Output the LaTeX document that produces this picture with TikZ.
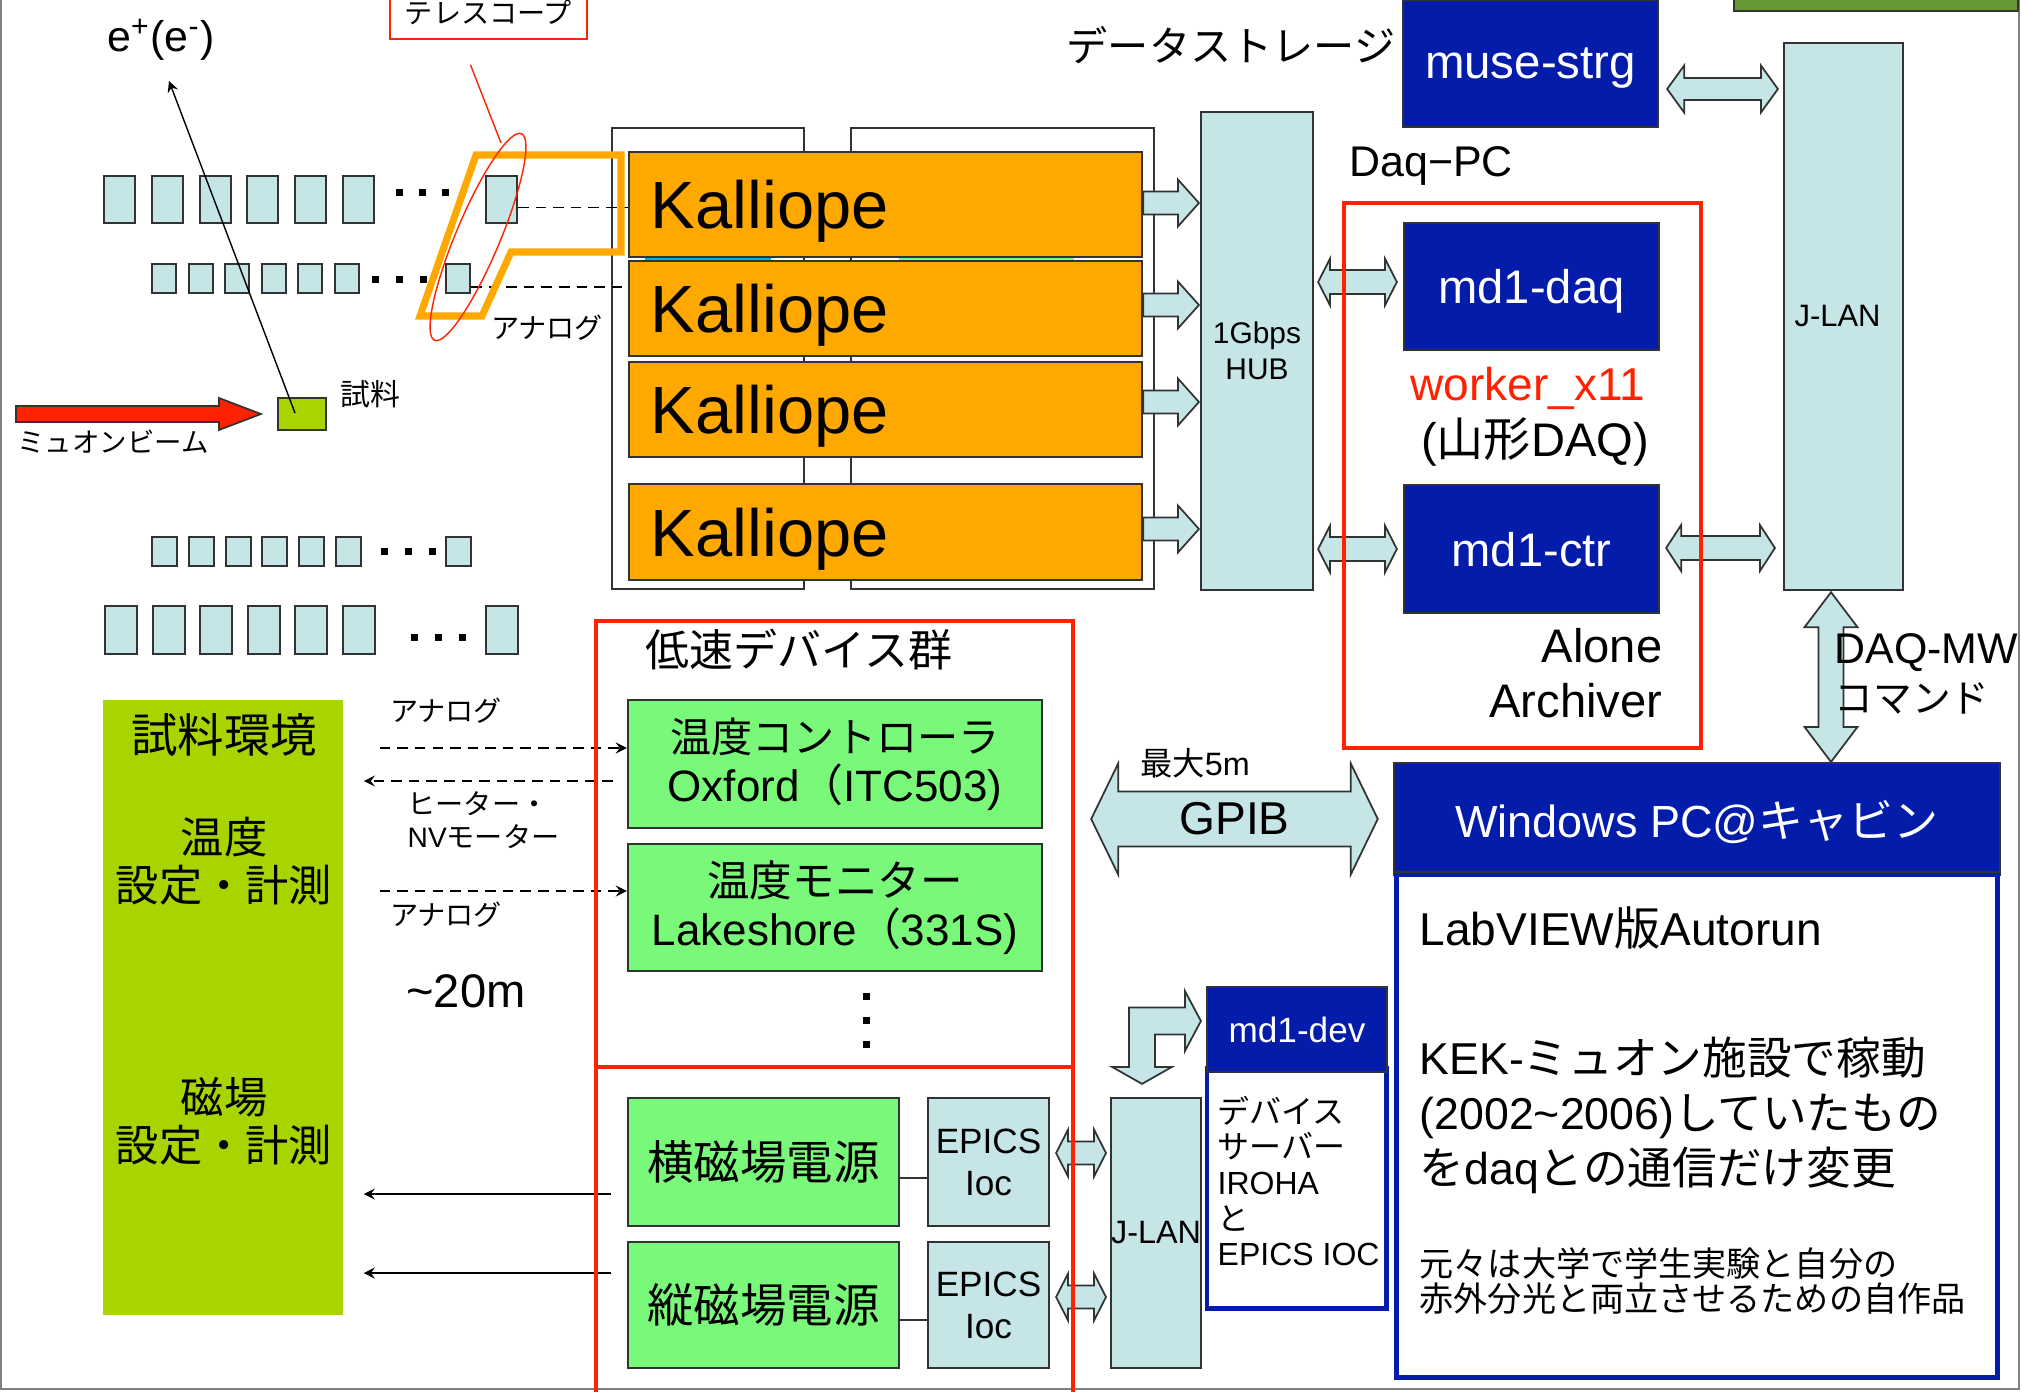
\documentclass[tikz,border=0pt]{standalone}
\usepackage{fontspec}
\setmainfont{Liberation Sans}
\newfontfamily\jp{Noto Sans CJK JP}
\usetikzlibrary{calc,shapes.geometric}

\definecolor{cyanclair}{HTML}{C5E5E6}
\definecolor{bleufonce}{HTML}{031CAA}
\definecolor{orangek}{HTML}{FFA900}
\definecolor{vertclair}{HTML}{79F879}
\definecolor{vertanis}{HTML}{A8D400}
\definecolor{rouge}{HTML}{FF2200}
\definecolor{vertolive}{HTML}{669933}
\definecolor{trait}{HTML}{333333}

\newcommand\taille[2]{\fontsize{#1}{#2}\selectfont}

% flèches "bloc" : pointes, demi-tige, demi-tête, longueur de tête
\newcommand\dflecheH[5]{%
  \draw[fleche] (#1) -- ($(#1)+(#5,-#4)$) -- ($(#1)+(#5,-#3)$) -- ($(#2)+(-#5,-#3)$) -- ($(#2)+(-#5,-#4)$) -- (#2)
    -- ($(#2)+(-#5,#4)$) -- ($(#2)+(-#5,#3)$) -- ($(#1)+(#5,#3)$) -- ($(#1)+(#5,#4)$) -- cycle;}
\newcommand\flecheH[6][]{%
  \draw[fleche,#1] ($(#2)+(0,-#4)$) -- ($(#3)+(-#6,-#4)$) -- ($(#3)+(-#6,-#5)$) -- (#3)
    -- ($(#3)+(-#6,#5)$) -- ($(#3)+(-#6,#4)$) -- ($(#2)+(0,#4)$) -- cycle;}
\newcommand\dflecheV[5]{%
  \draw[fleche] (#1) -- ($(#1)+(#4,#5)$) -- ($(#1)+(#3,#5)$) -- ($(#2)+(#3,-#5)$) -- ($(#2)+(#4,-#5)$) -- (#2)
    -- ($(#2)+(-#4,-#5)$) -- ($(#2)+(-#3,-#5)$) -- ($(#1)+(-#3,#5)$) -- ($(#1)+(-#4,#5)$) -- cycle;}

\tikzset{
  boite/.style={draw=trait, line width=0.6pt, inner sep=0pt},
  detect/.style={boite, fill=cyanclair},
  det1/.style={detect, minimum width=0.31cm, minimum height=0.47cm},
  det2/.style={detect, minimum width=0.24cm, minimum height=0.29cm},
  det3/.style={detect, minimum width=0.25cm, minimum height=0.29cm},
  det4/.style={detect, minimum width=0.32cm, minimum height=0.48cm},
  kalliope/.style={boite, fill=orangek, text width=4.69cm, inner xsep=0.22cm, align=left,
    font=\taille{19pt}{22pt}, text depth=0pt},
  bleu/.style={boite, fill=bleufonce, text=white, text depth=0pt},
  vert/.style={boite, fill=vertclair, align=center},
  fleche/.style={draw=trait, line width=0.5pt, fill=cyanclair, line join=miter},
  cadre/.style={draw=rouge, line width=1.1pt, inner sep=0pt},
  pointille/.style={dash pattern=on 3pt off 2pt, line width=0.4pt, ->, >=stealth},
  simple/.style={line width=0.4pt, ->, >=stealth},
  etiq/.style={font=\jp\taille{8pt}{9.4pt}, inner sep=0pt},
  gauche/.style={anchor=west, align=left, inner sep=0pt},
}

\begin{document}
\begin{tikzpicture}[x=0.01cm,y=-0.01cm]
  \useasboundingbox (0,0) rectangle (2022,1391);
  % cadre de la page
  \draw[gray, line width=0.6pt] (1,-10) -- (1,1389) -- (2019,1389) -- (2019,-10);
  \node[boite, fill=vertolive, minimum width=2.84cm, minimum height=0.31cm] (vhaut) at (1876,-4.5) {};

  % détecteurs
  \foreach \i in {0,...,5} \node[det1] (da\i) at (119.5+47.8*\i,199.5) {};
  \node[det1] (da6) at (501.5,199.5) {};
  \foreach \x in {399,422,445} \fill (\x-3.5,189) rectangle ++(7,7);
  \foreach \i in {0,...,5} \node[det2] (db\i) at (164+36.6*\i,278.5) {};
  \node[det2] (db6) at (458,278.5) {};
  \foreach \x in {375.5,399.5,423} \fill (\x-3.5,275.5) rectangle ++(7,7);
  \foreach \i in {0,...,5} \node[det3] (dc\i) at (164.5+36.8*\i,551.5) {};
  \node[det3] (dc6) at (458.5,551.5) {};
  \foreach \x in {384,408,432} \fill (\x-3.5,547.5) rectangle ++(7,7);
  \foreach \i in {0,...,5} \node[det4] (dd\i) at (121+47.6*\i,630) {};
  \node[det4] (dd6) at (502,630) {};
  \foreach \x in {414,438,462} \fill (\x-3.5,633.5) rectangle ++(7,7);

  % échantillon et faisceau
  \node[boite, fill=vertanis, minimum width=0.48cm, minimum height=0.32cm] (ech) at (302,414) {};
  \node[font=\jp\taille{8.5pt}{10pt}] (lech) at (370,394) {試料};
  \coordinate (src) at (16,414);
  \coordinate (cible) at ($(ech.west)+(-16,0)$);
  \flecheH[fill=rouge]{src}{cible}{8}{16}{42}
  \node[etiq, font=\jp\taille{7.8pt}{9pt}] (lmu) at (113,442) {ミュオンビーム};
  \node[font=\taille{12.2pt}{14pt}] (epos) at (161,40) {e\textsuperscript{+}(e\textsuperscript{-})};
  \coordinate (trace) at (169,81);
  \draw[simple] ($(ech.center)+(-7,-1)$) -- (trace);

  % châssis derrière les Kalliope
  \draw[trait, line width=0.5pt, fill=white] (612,128) rectangle (804,589);
  \draw[trait, line width=0.5pt, fill=white] (851,128) rectangle (1154,589);
  \fill[cyan] (645,257) rectangle (771,261);
  \fill[vertclair] (899,257) rectangle (1074,261);
  \foreach \n/\y/\h in {1/204.5/1.05, 2/308.5/0.95, 3/409.5/0.95, 4/532/0.96}
    \node[kalliope, minimum height=\h cm] (k\n) at (885.5,\y) {Kalliope};

  % télescope
  \draw[dash pattern=on 3pt off 2pt, line width=0.4pt] ($(da6.east)+(0,8)$) -- ($(k1.west |- da6.east)+(0,8)$);
  \draw[dash pattern=on 3pt off 2pt, line width=0.4pt] ($(db6.east)+(0,8.5)$) -- ($(k2.west |- db6.east)+(0,8.5)$);
  \draw[orangek, line width=2pt, line join=miter] (476,155) -- (621,155) -- (621,252) -- (511,252) -- (482,316) -- (420,316) -- cycle;
  \node[ellipse, draw=rouge, line width=0.4pt, minimum width=2.24cm, minimum height=0.44cm, inner sep=0pt, rotate=67.2] (ell) at (478,237) {};
  \node[draw=rouge, line width=0.5pt, minimum width=1.97cm, minimum height=0.54cm, font=\jp\taille{8pt}{10pt}] (tele) at (488.5,12) {テレスコープ};
  \draw[rouge, line width=0.4pt] ($(tele.south)+(-18,25)$) -- ($(ell.center)+(23,-94)$);
  \node[etiq] (lana) at (547,328) {アナログ};

  % hub et réseau
  \node[detect, minimum width=1.12cm, minimum height=4.78cm, align=center, font=\taille{8.5pt}{10.2pt}] (hub) at (1257,351) {1Gbps\\HUB};
  \foreach \n/\dy in {1/-1.5, 2/-3.5, 3/-7.5, 4/-3}{
    \coordinate (p) at ($(k\n.east)+(0,\dy)$);
    \coordinate (q) at ($(hub.west |- p)+(-1,0)$);
    \flecheH{p}{q}{11.5}{23.5}{21}
  }
  \node[detect, minimum width=1.19cm, minimum height=5.47cm, font=\taille{8.8pt}{10pt}] (jlan) at (1843.5,316.5) {\hspace*{-0.12cm}J-LAN};
  \node[bleu, minimum width=2.55cm, minimum height=1.27cm, font=\taille{13.5pt}{16pt}] (muse) at (1530.5,63.5) {muse-strg};
  \node[font=\jp\taille{11.7pt}{14pt}] (lstock) at (1231,45) {データストレージ};
  \node[font=\taille{12.2pt}{14pt}] (ldaqpc) at (1431,166) {Daq−PC};
  \node[bleu, minimum width=2.55cm, minimum height=1.27cm, font=\taille{13.4pt}{16pt}] (daq) at (1531.5,286.5) {md1-daq};
  \node[text=rouge, font=\taille{13.1pt}{15pt}] (wrk) at (1528,388) {worker\_x11};
  \node[font=\taille{13.4pt}{15pt}] (yam) at (1535,442) {({\jp 山形}DAQ)};
  \node[bleu, minimum width=2.55cm, minimum height=1.28cm, font=\taille{13.4pt}{16pt}] (ctr) at (1531.5,549) {md1-ctr};
  \node[align=right, anchor=east, inner sep=0pt, font=\taille{13.4pt}{15.6pt}] (alone) at (1663,673) {Alone\\Archiver};

  \coordinate (m1) at ($(muse.east)+(8,25.5)$);
  \coordinate (m2) at ($(jlan.west |- m1)+(-5,0)$);
  \dflecheH{m1}{m2}{11}{23.5}{17}
  \coordinate (h1) at ($(hub.east |- daq.west)+(4,-4.5)$);
  \coordinate (h2) at ($(daq.west)+(-6,-4.5)$);
  \dflecheH{h1}{h2}{12}{23.5}{12}
  \coordinate (h3) at ($(hub.east |- ctr.west)+(4,0)$);
  \coordinate (h4) at ($(ctr.west)+(-6,0)$);
  \dflecheH{h3}{h4}{12}{23.5}{12}
  \coordinate (c1) at ($(ctr.east)+(6,-1)$);
  \coordinate (c2) at ($(jlan.west |- c1)+(-8,0)$);
  \dflecheH{c1}{c2}{12}{23}{15}

  % PC Windows
  \node[bleu, minimum width=6.06cm, minimum height=1.12cm, font=\taille{12.8pt}{15pt}] (win) at (1697,819) {Windows PC@{\jp キャビン}};
  \node[draw=bleufonce, line width=1.4pt, minimum width=6.01cm, minimum height=5.03cm] (corps) at (1697,1126) {};
  \draw[trait, line width=0.6pt] (corps.north west) -- (corps.north east);
  \coordinate (v1) at ($(jlan.south)+(-12.5,1)$);
  \coordinate (v2) at (v1 |- win.north);
  \dflecheV{v1}{v2}{12.5}{26.5}{35}
  \node[gauche, font=\taille{12.2pt}{13.9pt}] (lmw) at (1834,674) {DAQ-MW\\{\jp\taille{11pt}{13.9pt}コマンド}};
  \node[gauche, font=\taille{13.1pt}{15pt}] (lv) at (1419,928) {LabVIEW{\jp 版}Autorun};
  \node[gauche, font=\taille{12.7pt}{15.6pt}] (kek) at (1419,1115)
    {KEK-{\jp ミュオン施設で稼動}\\(2002\textasciitilde 2006){\jp していたもの}\\{\jp を}daq{\jp との通信だけ変更}};
  \node[gauche, font=\jp\taille{9.7pt}{10.2pt}] (orig) at (1419,1281)
    {元々は大学で学生実験と自分の\\赤外分光と両立させるための自作品};

  % environnement de l'échantillon
  \node[fill=vertanis, minimum width=2.4cm, minimum height=6.15cm] (env) at (223,1007.5) {};
  \node[font=\jp\taille{13.2pt}{15pt}] (lenv) at (224,735) {試料環境};
  \node[align=center, font=\jp\taille{12.3pt}{13.7pt}] (ltemp) at (224,861) {温度\\設定・計測};
  \node[align=center, font=\jp\taille{12.3pt}{13.7pt}] (lmag) at (224,1121) {磁場\\設定・計測};

  % appareils lents
  \node[font=\jp\taille{12.5pt}{14pt}] (llent) at (799,650) {低速デバイス群};
  \node[vert, minimum width=4.14cm, minimum height=1.28cm, font=\taille{12.5pt}{13.9pt}] (tc) at (835,764)
    {{\jp\taille{11.7pt}{13.9pt}温度コントローラ}\\Oxford{\jp （}ITC503)};
  \node[vert, minimum width=4.14cm, minimum height=1.27cm, font=\taille{12.5pt}{13.9pt}] (tm) at (835,907.5)
    {{\jp\taille{12.1pt}{13.9pt}温度モニター}\\Lakeshore{\jp （}331S)};
  \foreach \y in {996,1020,1044} \fill (862.5,\y-3.5) rectangle ++(7,7);
  \node[vert, minimum width=2.71cm, minimum height=1.28cm, font=\jp\taille{13.2pt}{15pt}] (ym) at (763.5,1162) {横磁場電源};
  \node[vert, minimum width=2.71cm, minimum height=1.26cm, font=\jp\taille{13.2pt}{15pt}] (tm2) at (763.5,1305) {縦磁場電源};
  \node[detect, minimum width=1.21cm, minimum height=1.28cm, align=center, font=\taille{10pt}{12pt}] (ep1) at (988.5,1162) {EPICS\\Ioc};
  \node[detect, minimum width=1.21cm, minimum height=1.26cm, align=center, font=\taille{10pt}{12pt}] (ep2) at (988.5,1305) {EPICS\\Ioc};
  \draw[trait, line width=0.5pt] ($(ym.east)+(0,16)$) -- ($(ep1.west)+(0,16)$);
  \draw[trait, line width=0.5pt] ($(tm2.east)+(0,15)$) -- ($(ep2.west)+(0,15)$);

  % liaisons vers l'environnement
  \draw[pointille] ($(env.east |- tc.west)+(36,-16)$) -- ($(tc.west)+(0,-16)$);
  \draw[pointille] ($(tc.west)+(-14,17)$) -- ($(env.east |- tc.west)+(20,17)$);
  \draw[pointille] ($(env.east |- tm.west)+(36,-16.5)$) -- ($(tm.west)+(0,-16.5)$);
  \draw[simple] ($(ym.west)+(-16,32)$) -- ($(env.east |- ym.west)+(20,32)$);
  \draw[simple] ($(tm2.west)+(-16,-32)$) -- ($(env.east |- tm2.west)+(20,-32)$);
  \node[etiq] (lana1) at (446,711) {アナログ};
  \node[etiq, anchor=west, align=left] (lchauf) at (407,820.5) {ヒーター・\\{\rmfamily NV}モーター};
  \node[etiq] (lana2) at (446,915) {アナログ};
  \node[font=\taille{13.4pt}{15pt}] (l20) at (466,991) {\textasciitilde 20m};

  % serveur de périphériques
  \node[detect, minimum width=0.8cm, minimum height=2.7cm, font=\taille{9.2pt}{11pt}] (jlanb) at (1156,1233) {J-LAN};
  \node[draw=bleufonce, line width=1.4pt, minimum width=1.79cm, minimum height=2.39cm] (serv) at (1296.5,1188.5) {};
  \node[bleu, minimum width=1.8cm, minimum height=0.85cm, font=\taille{10pt}{12pt}] (dev) at (1297,1029.5) {md1-dev};
  \node[gauche, font=\taille{9.1pt}{10.1pt}] (lserv) at (1217,1181)
    {{\jp デバイス}\\{\jp サーバー}\\IROHA\\{\jp と}\\EPICS IOC};
  \coordinate (b1) at ($(jlanb.north)+(-14,-13)$);
  \coordinate (b2) at ($(dev.west)+(-5,-8.5)$);
  \draw[fleche] (b2) -- ($(b2)+(-16,-30)$) -- ($(b2)+(-16,-13.5)$) -- ($(b1 |- b2)+(-13,-13.5)$)
    -- ($(b1)+(-13,-17)$) -- ($(b1)+(-30,-17)$) -- (b1) -- ($(b1)+(30,-17)$) -- ($(b1)+(13,-17)$)
    -- ($(b1 |- b2)+(13,13.5)$) -- ($(b2)+(-16,13.5)$) -- ($(b2)+(-16,30)$) -- cycle;
  \coordinate (e1) at ($(ep1.east)+(6,-9)$);
  \coordinate (e2) at ($(jlanb.west |- e1)+(-4,0)$);
  \dflecheH{e1}{e2}{11.5}{23.5}{12}
  \coordinate (e3) at ($(ep2.east)+(6,-8)$);
  \coordinate (e4) at ($(jlanb.west |- e3)+(-4,0)$);
  \dflecheH{e3}{e4}{11.5}{23.5}{12}

  % GPIB
  \coordinate (g1) at ($(tc.east |- win.west)+(48,0)$);
  \coordinate (g2) at ($(win.west)+(-15,0)$);
  \dflecheH{g1}{g2}{27.5}{55.5}{27}
  \node[font=\taille{13.1pt}{15pt}] (gpib) at ($(g1)!0.5!(g2)$) {GPIB};
  \node[font=\taille{9.2pt}{11pt}] (l5m) at (1195,763) {{\jp 最大}5m};

  % cadres rouges
  \node[cadre, minimum width=3.57cm, minimum height=5.45cm] (daqpc) at (1522.5,475.5) {};
  \node[cadre, minimum width=4.77cm, minimum height=4.46cm] (lent) at (834.5,844) {};
  \node[cadre, minimum width=4.77cm, minimum height=3.4cm] (lent2) at (834.5,1237) {};
\end{tikzpicture}
\end{document}
